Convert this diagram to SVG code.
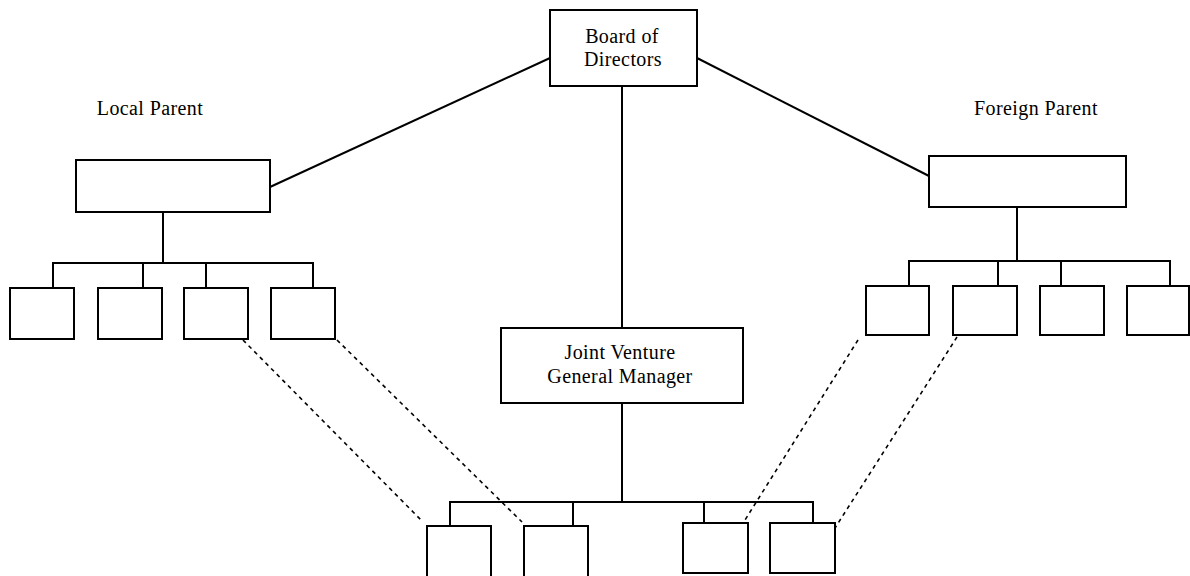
<svg xmlns="http://www.w3.org/2000/svg" width="1190" height="576" viewBox="0 0 1190 576">
<style>
.box{fill:#fff;stroke:#000;stroke-width:2}
.ln{stroke:#000;stroke-width:2;fill:none}
.ds{stroke:#000;stroke-width:1.6;fill:none;stroke-dasharray:4,4}
text{font-family:"Liberation Serif","Times New Roman",serif;font-size:20px;fill:#000;text-anchor:middle;letter-spacing:0.4px}
</style>
<rect width="1190" height="576" fill="#fff"/>
<g id="connectors">
<line class="ln" x1="550" y1="58" x2="270" y2="187"/>
<line class="ln" x1="697" y1="58" x2="929" y2="176"/>
<line class="ln" x1="622" y1="86" x2="622" y2="328"/>
<line class="ln" x1="622" y1="403" x2="622" y2="502"/>
<polyline class="ln" points="450,526 450,502 813,502 813,523"/>
<line class="ln" x1="573" y1="502" x2="573" y2="526"/>
<line class="ln" x1="704" y1="502" x2="704" y2="523"/>
<line class="ln" x1="163" y1="212" x2="163" y2="263"/>
<polyline class="ln" points="53,288 53,263 313,263 313,288"/>
<line class="ln" x1="143" y1="263" x2="143" y2="288"/>
<line class="ln" x1="206" y1="263" x2="206" y2="288"/>
<line class="ln" x1="1017" y1="207" x2="1017" y2="261"/>
<polyline class="ln" points="909,286 909,261 1170,261 1170,286"/>
<line class="ln" x1="998" y1="261" x2="998" y2="286"/>
<line class="ln" x1="1061" y1="261" x2="1061" y2="286"/>
<line class="ds" x1="243" y1="340" x2="423" y2="522"/>
<line class="ds" x1="337" y1="340" x2="522" y2="522"/>
<line class="ds" x1="858" y1="340" x2="745" y2="520"/>
<line class="ds" x1="957" y1="337" x2="835" y2="528"/>
</g>
<g id="board"><rect class="box" x="550" y="10" width="147" height="76"/><text x="622" y="43">Board of</text><text x="623" y="66">Directors</text></g>
<g id="local-label"><text x="150" y="115">Local  Parent</text></g>
<g id="foreign-label"><text x="1036" y="115">Foreign Parent</text></g>
<g id="local-parent"><rect class="box" x="76" y="160" width="194" height="52"/></g>
<g id="foreign-parent"><rect class="box" x="929" y="156" width="197" height="51"/></g>
<g id="jv"><rect class="box" x="501" y="328" width="242" height="75"/><text x="620" y="359">Joint Venture</text><text x="620" y="383">General Manager</text></g>
<g id="local-1"><rect class="box" x="10" y="288" width="64" height="51"/></g>
<g id="local-2"><rect class="box" x="98" y="288" width="64" height="51"/></g>
<g id="local-3"><rect class="box" x="184" y="288" width="64" height="51"/></g>
<g id="local-4"><rect class="box" x="271" y="288" width="64" height="51"/></g>
<g id="foreign-1"><rect class="box" x="866" y="286" width="63" height="49"/></g>
<g id="foreign-2"><rect class="box" x="953" y="286" width="64" height="49"/></g>
<g id="foreign-3"><rect class="box" x="1040" y="286" width="64" height="49"/></g>
<g id="foreign-4"><rect class="box" x="1127" y="286" width="62" height="49"/></g>
<g id="jv-1"><rect class="box" x="427" y="526" width="64" height="56"/></g>
<g id="jv-2"><rect class="box" x="524" y="526" width="64" height="56"/></g>
<g id="jv-3"><rect class="box" x="683" y="523" width="65" height="50"/></g>
<g id="jv-4"><rect class="box" x="770" y="523" width="65" height="50"/></g>
</svg>
